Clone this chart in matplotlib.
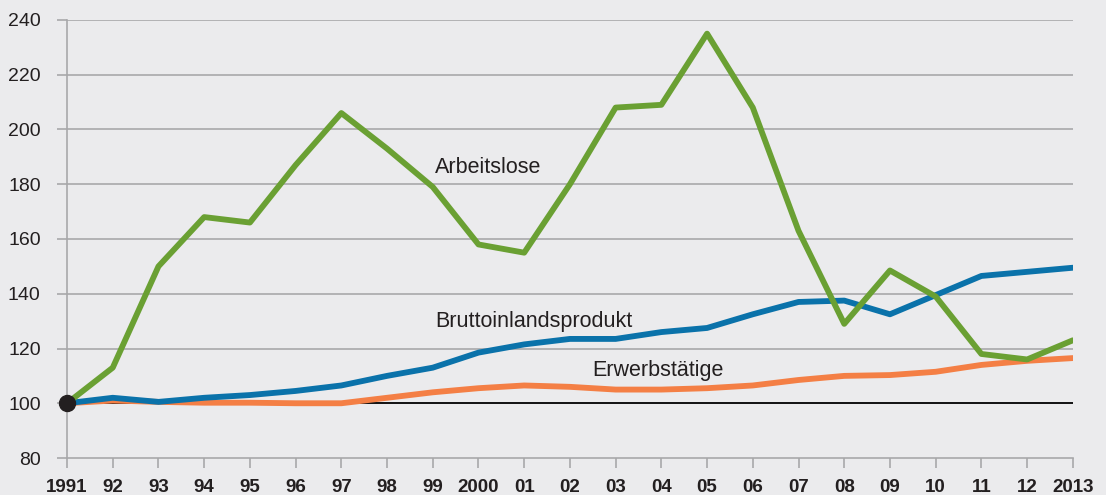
import numpy as np
from matplotlib import pyplot as plt

plt.rcParams['font.family'] = ['Liberation Sans', 'DejaVu Sans']

years = list(range(1991, 2014))
year_labels = ["1991", "92", "93", "94", "95", "96", "97", "98", "99", "2000",
               "01", "02", "03", "04", "05", "06", "07", "08", "09", "10",
               "11", "12", "2013"]

arbeitslose = [100, 113, 150, 168, 166, 187, 206, 193, 179, 158, 155, 180,
               208, 209, 235, 208, 163, 129, 148.5, 139, 118, 116, 123]
bip = [100, 102, 100.5, 102, 103, 104.5, 106.5, 110, 113, 118.5, 121.5, 123.5,
       123.5, 126, 127.5, 132.5, 137, 137.5, 132.5, 139.5, 146.5, 148, 149.5]
erwerb = [100, 101, 100.5, 100.2, 100.2, 100, 100, 102, 104, 105.5, 106.5, 106,
          105, 105, 105.5, 106.5, 108.5, 110, 110.3, 111.5, 114, 115.5, 116.5]

bg = "#ebebed"
grid_col = "#a8a8aa"
txt = "#231f20"

fig = plt.figure(figsize=(11.06, 4.95), dpi=100, facecolor=bg)
ax = fig.add_axes([0.0606, 0.0747, 0.9094, 0.885])
ax.set_facecolor(bg)

for yv in range(100, 260, 20):
    ax.axhline(yv, color="black" if yv == 100 else grid_col,
               lw=1.3 if yv == 100 else 1.2, zorder=1)

ax.plot(years, erwerb, color="#f47f45", lw=4.2, solid_capstyle="round", zorder=3)
ax.plot(years, bip, color="#0a72aa", lw=4.2, solid_capstyle="round", zorder=4)
ax.plot(years, arbeitslose, color="#6aa033", lw=4.2, solid_capstyle="round", zorder=5)
ax.plot([1991], [100], "o", color=txt, ms=11.5, zorder=6, clip_on=False)

ax.text(1999.05, 184, "Arbeitslose", fontsize=15.5, color=txt, va="baseline")
ax.text(1999.05, 128, "Bruttoinlandsprodukt", fontsize=15.5, color=txt, va="baseline")
ax.text(2002.49, 109.8, "Erwerbstätige", fontsize=15.5, color=txt, va="baseline")

ax.set_xlim(1991, 2013)
ax.set_ylim(80, 240)
ax.set_yticks(range(80, 260, 20))
ax.set_xticks(years)
ax.set_xticklabels(year_labels, fontweight="bold")
ax.tick_params(axis="y", length=7, color=grid_col, width=1.2, pad=12,
               labelsize=14, labelcolor=txt)
ax.tick_params(axis="x", length=7, color=grid_col, width=1.2, pad=8,
               labelsize=13.5, labelcolor=txt)

for s in ["top", "right"]:
    ax.spines[s].set_visible(False)
for s in ["left", "bottom"]:
    ax.spines[s].set_color(grid_col)
    ax.spines[s].set_linewidth(1.2)

fig.savefig("out.png", dpi=100, facecolor=bg)
